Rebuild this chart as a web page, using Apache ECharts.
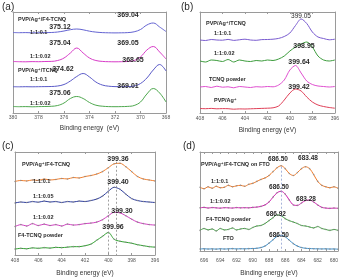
<!DOCTYPE html>
<html><head><meta charset="utf-8">
<script src="https://cdn.jsdelivr.net/npm/echarts@6/dist/echarts.min.js"></script>
<style>html,body{margin:0;padding:0;background:#fff}#c{width:342px;height:278px}</style>
</head><body><div id="c"></div>
<script>
// ---- panel (a): Ag 3d ----
const aX = [380,379.5,379,378.5,378,377.5,377,376.5,376,375.5,375,374.5,374,373.5,373,372.5,372,371.5,371,370.5,370,369.5,369,368.5,368];
const aF4_01  = [80.5,80.3,80.4,80.2,80.3,80.4,80.5,81,82,83.3,84,83.2,81.8,80.9,80.4,80.2,80.1,80.2,80.4,81.2,83.5,88,90,86,81.5];
const aF4_002 = [51.5,51.3,51.2,51.4,51.3,51.5,51.6,52.5,55,60,65,60,55,52.5,51.6,51.3,51.2,51.3,51.5,52.5,56,63,66.5,61,54];
const aTC_01  = [26.3,26.2,26.3,26.2,26.3,26.4,26.5,27,28.5,32,36.5,39.5,36,31,28,26.8,26.4,26.3,26.4,27,29.5,35,43,48.5,42];
const aTC_002 = [6.5,6.3,6.4,6.2,6.4,6.5,6.7,7.5,10,14.5,16.5,14.5,10.5,7.8,6.8,6.4,6.3,6.4,6.6,7.5,11,19,24.5,20,11];
// ---- panel (b): N 1s TCNQ ----
const bX = [408,407.5,407,406.5,406,405.5,405,404.5,404,403.5,403,402.5,402,401.5,401,400.5,400,399.5,399,398.5,398,397.5,397,396.5,396];
const bTC01  = [73,72.5,73.5,73,72.8,73.6,72.6,73.2,73.8,73,72.7,73.4,73.5,73.8,74.6,76.5,80,87.5,94,89.5,81,76,74.5,73.2,73.8];
const bTC002 = [52,51,53,52.5,51.5,53.5,51,53,52,51.5,52.5,52,53,52.5,54,57,62,66,69,71,66,57,53,52,53];
const bTCNQ  = [26,26.5,25.5,26.8,25.8,26.2,25.2,26.5,26,25.5,26.3,26,26.5,26.2,28,33,43,47.5,40,32,28.5,27,26.5,26,26.5];
const bPVP   = [4.5,4.3,4.6,4.2,4.4,4.3,3.8,4.1,4.0,4.2,4.4,4.6,4.8,5.2,7,13,20,24,22,16,11,8,6.5,5.5,4.8];
// ---- panel (c): N 1s F4-TCNQ ----
const cX = [408,407.5,407,406.5,406,405.5,405,404.5,404,403.5,403,402.5,402,401.5,401,400.5,400,399.5,399,398.5,398,397.5,397,396.5,396];
const cF01   = [75,76,75.5,76.5,76,77.5,76.5,77,78,77.5,79,78.5,80,81,82.5,85,89,93,93.5,90,85,80,77.5,76.5,75.5];
const cF005  = [53,54,53.5,54.5,53.8,55,54,54.5,53.5,54.5,54,55,54.5,55.5,57,60,65,69,67,62,57.5,55.5,54.5,54,53.5];
const cF002  = [29,31,29.5,32,30,31.5,30,31,29.5,31.5,30.5,31,32,32.5,33.5,36,40,43.5,43,40,36.5,33.5,32,31,30.5];
const cPowder= [6,6.8,6.3,7.3,6.8,7.5,7,7.8,7.5,8,8.5,8.5,9.5,11,15,19,23,16,14,13,12,10.5,9.5,8.5,8];
const cDash = [400, 399.36];
// ---- panel (d): F 1s ----
const dX = [696.5,696,695.5,695,694.5,694,693.5,693,692.5,692,691.5,691,690.5,690,689.5,689,688.5,688,687.5,687,686.5,686,685.5,685,684.5,684,683.5,683,682.5,682,681.5,681,680.5,680,679.5];
const dF01   = [65,63.5,65.5,64,66,64.5,65,67,65.5,66.5,67,66,68,69,71,73,74.5,77,81,85,87,84,79,77,80,84,86,84,78,71,67,65.5,64.5,65.5,64];
const dF002  = [44,44.5,43.8,44.3,44,43.7,44.2,44,43.8,44.3,44,44.2,44,44.5,44.8,45.5,47,50,55,59.5,61,58,52,47,46.5,49,51.5,52,50,47,44.5,43.8,43.5,43.8,43.5];
const dPowder= [21,23,21.5,22.5,20.5,23,21.5,22,23.5,21.5,22.5,23,22,24,25.5,26,28,31,34,37,36,33,31,29.5,28,26,25.5,24.5,23.5,25,23,22,21,22,21];
const dFTO   = [2,2.3,2,2.2,1.9,2.3,2,2.2,2.4,2.1,2.3,2.2,2.4,2.5,2.8,3.5,5,8,11.5,15,16,14.5,11,7.5,5,3.5,2.8,2.5,2.3,2.2,2.1,2.2,2,2.1,1.8];
const dDash = [686.5];
const dTickLabels = [680,682,684,686,688,690,692,694,696];
const dMinorTicks = [680,681,682,683,684,685,686,687,688,689,690,691,692,693,694,695,696];

const FONT = 'Liberation Sans, DejaVu Sans, Arial, sans-serif';
const grids = [
  {left:13, top:12, width:153, height:101},
  {left:200, top:12, width:137, height:101},
  {left:15, top:152, width:140, height:105},
  {left:200, top:152, width:138, height:101}
];
const xr = [
  {min:368, max:380, interval:2, nameGap:12, labelMargin:2, name:'Binding energy  (eV)'},
  {min:396, max:408, interval:2, nameGap:14, labelMargin:3, name:'Binding energy (eV)'},
  {min:396, max:408, interval:2, nameGap:15, labelMargin:3, name:'Binding energy (eV)'},
  {min:679.5, max:696.5, nameGap:19, labelMargin:7, name:'Binding energy (eV)', custom:true}
];
const AX = '#9a9a9a';
const xAxes = [], yAxes = [];
xr.forEach((r,i)=>{
  const base = {gridIndex:i, type:'value', min:r.min, max:r.max, inverse:true, splitLine:{show:false},
    axisLine:{show:true, onZero:false, lineStyle:{color:AX, width:1}}};
  if (r.interval) base.interval = r.interval;
  const tick = {show:true, inside:true, length:2, lineStyle:{color:AX}};
  if (r.custom) tick.customValues = dMinorTicks;
  const lab = {show:true, fontSize:5, color:'#555', margin:r.labelMargin, fontFamily:FONT};
  if (r.custom) lab.customValues = dTickLabels;
  xAxes.push(Object.assign({}, base, {position:'bottom', axisTick:tick, axisLabel:lab,
    name:r.name, nameLocation:'middle', nameGap:r.nameGap,
    nameTextStyle:{fontSize:6.5, color:'#333', fontFamily:FONT}}));
});
xr.forEach((r,i)=>{
  const t = {show:true, inside:true, length:2, lineStyle:{color:AX}};
  if (r.custom) t.customValues = dMinorTicks;
  const o = {gridIndex:i, type:'value', min:r.min, max:r.max, inverse:true, position:'top',
    splitLine:{show:false}, axisLabel:{show:false}, axisTick:t,
    axisLine:{show:true, onZero:false, lineStyle:{color:AX}}};
  if (r.interval) o.interval = r.interval;
  xAxes.push(o);
});
grids.forEach((g,i)=>{
  yAxes.push({gridIndex:i, type:'value', min:0, max:g.height, position:'left', splitLine:{show:false},
    axisLabel:{show:false}, axisTick:{show:false}, axisLine:{show:true, onZero:false, lineStyle:{color:AX}}});
});
grids.forEach((g,i)=>{
  yAxes.push({gridIndex:i, type:'value', min:0, max:g.height, position:'right', splitLine:{show:false},
    axisLabel:{show:false}, axisTick:{show:false}, axisLine:{show:true, onZero:false, lineStyle:{color:AX}}});
});

function zip(x,y){ return x.map((v,k)=>[v,y[k]]); }
function line(p, x, y, color, dots, smooth){
  return {type:'line', xAxisIndex:p, yAxisIndex:p, data:zip(x,y), smooth:smooth, silent:true,
    showSymbol:!!dots, symbol:'circle', symbolSize:1.6,
    itemStyle:{color:'#8a8a8a', opacity:0.8},
    lineStyle:{color:color, width:1}, animation:false, z:3};
}
const series = [
  line(0,aX,aF4_01,'#6464d2',false,0.4),
  line(0,aX,aF4_002,'#d83cc8',false,0.4),
  line(0,aX,aTC_01,'#5a5ac8',false,0.4),
  line(0,aX,aTC_002,'#4ea84e',false,0.4),
  line(1,bX,bTC01,'#7a5cd0',false,0.3),
  line(1,bX,bTC002,'#3c9c3c',false,0.3),
  line(1,bX,bTCNQ,'#e050d0',false,0.3),
  line(1,bX,bPVP,'#e04058',false,0.3),
  line(2,cX,cF01,'#f08030',true,0.3),
  line(2,cX,cF005,'#2c3c9c',true,0.3),
  line(2,cX,cF002,'#d040c0',true,0.3),
  line(2,cX,cPowder,'#30a030',true,0.3),
  line(3,dX,dF01,'#f07a28',true,0.3),
  line(3,dX,dF002,'#d020b0',true,0.3),
  line(3,dX,dPowder,'#40a040',true,0.3),
  line(3,dX,dFTO,'#3a8cc8',true,0.3)
];
series[8].markLine = {silent:true, symbol:'none', label:{show:false}, animation:false,
  lineStyle:{color:'#888', type:[2,2], width:0.8},
  data:[[{coord:[cDash[0],85]},{coord:[cDash[0],0]}],[{coord:[cDash[1],95]},{coord:[cDash[1],0]}]]};
series[12].markLine = {silent:true, symbol:'none', label:{show:false}, animation:false,
  lineStyle:{color:'#8fa0d0', type:[2,2], width:0.8},
  data:[[{coord:[dDash[0],86]},{coord:[dDash[0],0]}]]};

// texts: [text, x, y, align, size, weight]
const texts = [
  ['(a)',2,7,'left',10,'normal'],
  ['PVP/Ag⁺/F4-TCNQ',18,19,'left',5.5,'bold'],
  ['1:1:0.1',30,32,'left',5.5,'bold'],
  ['375.12',60,27,'center',7,'bold'],
  ['369.04',128,15,'center',7,'bold'],
  ['1:1:0.02',30,56,'left',5.5,'bold'],
  ['375.04',60,43,'center',7,'bold'],
  ['369.05',128,43,'center',7,'bold'],
  ['PVP/Ag⁺/TCNQ',18,70,'left',5.5,'bold'],
  ['1:1:0.1',30,79,'left',5.5,'bold'],
  ['374.62',63,69,'center',7,'bold'],
  ['368.65',133,60,'center',7,'bold'],
  ['1:1:0.02',30,103,'left',5.5,'bold'],
  ['375.06',60,93,'center',7,'bold'],
  ['369.01',128,86,'center',7,'bold'],
  ['(b)',181,7,'left',10,'normal'],
  ['PVP/Ag⁺/TCNQ',206,23,'left',5.5,'bold'],
  ['1:1:0.1',214,33,'left',5.5,'bold'],
  ['399.05',301,16,'center',6.5,'normal'],
  ['1:1:0.02',214,53,'left',5.5,'bold'],
  ['398.95',304,46,'center',7,'bold'],
  ['399.64',299,62,'center',7,'bold'],
  ['TCNQ powder',209,79,'left',5.5,'bold'],
  ['399.42',299,87,'center',7,'bold'],
  ['PVP/Ag⁺',214,100,'left',5.5,'bold'],
  ['(c)',2,146,'left',10,'normal'],
  ['PVP/Ag⁺/F4-TCNQ',22,164,'left',5.5,'bold'],
  ['399.36',118,159,'center',7,'bold'],
  ['1:1:0.1',33,181,'left',5.5,'bold'],
  ['399.40',118,182,'center',7,'bold'],
  ['1:1:0.05',33,196,'left',5.5,'bold'],
  ['399.30',122,211,'center',7,'bold'],
  ['1:1:0.02',33,217,'left',5.5,'bold'],
  ['399.96',113,227,'center',7,'bold'],
  ['F4-TCNQ powder',18,235,'left',5.5,'bold'],
  ['(d)',183,146,'left',10,'normal'],
  ['PVP/Ag⁺/F4-TCNQ on FTO',201,164,'left',5.5,'bold'],
  ['686.50',278,159,'center',6.5,'bold'],
  ['683.48',308,158,'center',6.5,'bold'],
  ['1:1:0.1',211,181,'left',5.5,'bold'],
  ['686.50',279,187,'center',6.5,'bold'],
  ['683.28',306,199,'center',6.5,'bold'],
  ['1:1:0.02',210,201,'left',5.5,'bold'],
  ['686.92',276,214,'center',6.5,'bold'],
  ['F4-TCNQ powder',206,219,'left',5.5,'bold'],
  ['686.50',279,235,'center',6.5,'bold'],
  ['FTO',223,238,'left',5.5,'bold']
];
const graphic = texts.map(t=>({type:'text', x:t[1], y:t[2], z:10,
  style:{text:t[0], align:t[3], verticalAlign:'middle', fontSize:t[4], fontWeight:t[5],
    fontFamily:FONT, fill:'#2a2a2a'}}));

const chart = echarts.init(document.getElementById('c'), null, {renderer:'canvas'});
chart.setOption({animation:false, backgroundColor:'#fff', grid:grids, xAxis:xAxes, yAxis:yAxes,
  series:series, graphic:graphic});
</script></body></html>
